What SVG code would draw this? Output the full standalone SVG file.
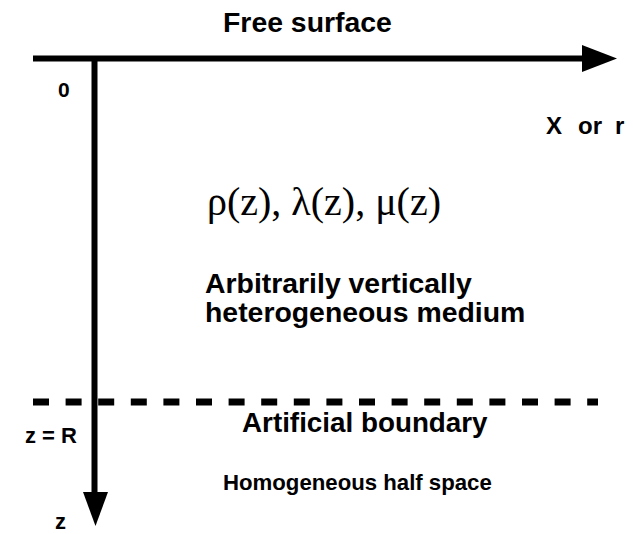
<svg xmlns="http://www.w3.org/2000/svg" width="633" height="534" viewBox="0 0 633 534">
<style>
.b{font-family:"Liberation Sans",Arial,sans-serif;font-weight:bold;fill:#000}
.s{font-family:"Liberation Serif","Times New Roman",serif;fill:#000}
</style>
<rect width="633" height="534" fill="#fff"/>
<g id="connectors">
<line x1="33" y1="58.5" x2="585" y2="58.5" stroke="#000" stroke-width="6"/>
<polygon points="582,45 617,58.5 582,72" fill="#000"/>
<line x1="94.5" y1="58" x2="94.5" y2="496" stroke="#000" stroke-width="6"/>
<polygon points="83,492 95.5,526 108,492" fill="#000"/>
<line x1="33" y1="402" x2="598" y2="402" stroke="#000" stroke-width="7" stroke-dasharray="16,16.6"/>
</g>
<g id="free-surface"><text class="b" x="223" y="32" font-size="28.4">Free surface</text></g>
<g id="origin"><text class="b" x="58" y="97" font-size="21">0</text></g>
<g id="x-label"><text class="b" y="134" font-size="24"><tspan x="546">X</tspan><tspan x="578">or</tspan><tspan x="615">r</tspan></text></g>
<g id="params"><text class="s" x="207" y="215" font-size="40">ρ(z), λ(z), μ(z)</text></g>
<g id="medium">
<text class="b" x="205" y="293" font-size="28.4">Arbitrarily vertically</text>
<text class="b" x="205" y="322" font-size="28.4">heterogeneous medium</text>
</g>
<g id="boundary"><text class="b" x="242" y="432" font-size="27.8">Artificial boundary</text></g>
<g id="zR"><text class="b" x="25" y="443" font-size="22">z =  R</text></g>
<g id="halfspace"><text class="b" x="223" y="490" font-size="22.2">Homogeneous half space</text></g>
<g id="z"><text class="b" x="55" y="529" font-size="22">z</text></g>
</svg>
